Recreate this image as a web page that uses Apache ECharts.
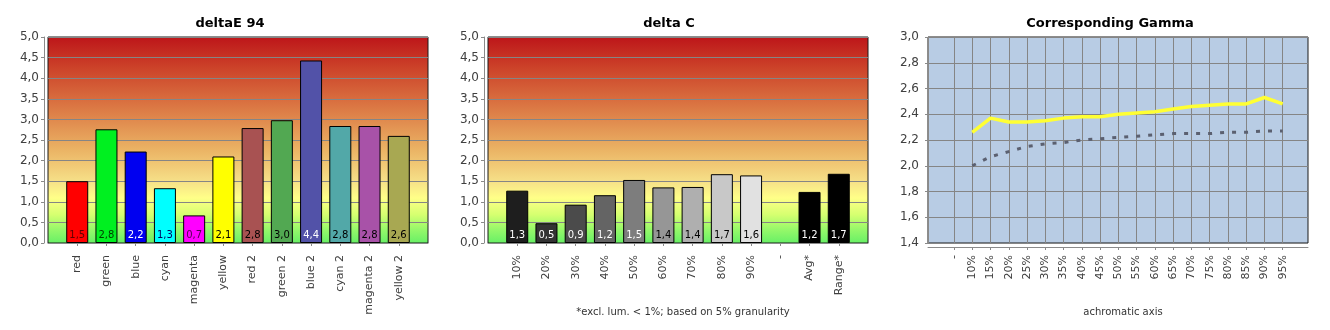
<!DOCTYPE html>
<html>
<head>
<meta charset="utf-8">
<script src="https://cdn.jsdelivr.net/npm/echarts@6/dist/echarts.min.js"></script>
<style>
html,body{margin:0;padding:0;background:#fff;}
#chart{width:1330px;height:330px;}
</style>
</head>
<body>
<div id="chart"></div>
<script>
// ---------- DATA ----------
const deltaECategories = ['red','green','blue','cyan','magenta','yellow','red 2','green 2','blue 2','cyan 2','magenta 2','yellow 2'];
const deltaEValues = [1.50, 2.76, 2.22, 1.33, 0.67, 2.10, 2.79, 2.98, 4.43, 2.84, 2.84, 2.60];

const deltaCCategories = ['10%','20%','30%','40%','50%','60%','70%','80%','90%','-','Avg*','Range*'];
const deltaCValues = [1.27, 0.48, 0.93, 1.16, 1.53, 1.35, 1.36, 1.67, 1.64, null, 1.24, 1.68];

const gammaCategories = ['-','10%','15%','20%','25%','30%','35%','40%','45%','50%','55%','60%','65%','70%','75%','80%','85%','90%','95%'];
const gammaMeasured = [null, 2.26, 2.37, 2.34, 2.34, 2.35, 2.37, 2.38, 2.38, 2.40, 2.41, 2.42, 2.44, 2.46, 2.47, 2.48, 2.48, 2.53, 2.48];
const gammaTarget   = [null, 2.00, 2.07, 2.11, 2.15, 2.17, 2.18, 2.20, 2.21, 2.22, 2.23, 2.24, 2.25, 2.25, 2.25, 2.26, 2.26, 2.27, 2.27];

const barYTicks = {min: 0, max: 5, interval: 0.5};
const gammaYTicks = {min: 1.4, max: 3.0, interval: 0.2};

const titles = ['deltaE 94', 'delta C', 'Corresponding Gamma'];
const footnoteC = '*excl. lum. < 1%; based on 5% granularity';
const gammaAxisName = 'achromatic axis';

// ---------- STYLE ----------
const FONT = 'DejaVu Sans';
const deltaEColors = ['#ff0000','#00f020','#0000f0','#00ffff','#ff00ff','#ffff00','#a85252','#52a852','#5252a8','#52a8a8','#a852a8','#a8a852'];
const deltaELabelColors = ['#600000','#004000','#ffffff','#000060','#500050','#000000','#000000','#000000','#ffffff','#000000','#000000','#000000'];
const deltaCColors = ['#1e1e1e','#333333','#4b4b4b','#646464','#7d7d7d','#969696','#afafaf','#c8c8c8','#e1e1e1','#000','#000000','#000000'];
const deltaCLabelColors = ['#fff','#fff','#fff','#fff','#fff','#000','#000','#000','#000','#fff','#fff','#fff'];

const fmt = v => (Math.round(v * 10) / 10).toFixed(1).replace('.', ',');

const bgGradient = {
  type: 'linear', x: 0, y: 0, x2: 0, y2: 1,
  colorStops: [
    {offset: 0.00, color: '#bd1519'},
    {offset: 0.15, color: '#cc4229'},
    {offset: 0.35, color: '#dc7a45'},
    {offset: 0.55, color: '#ebb465'},
    {offset: 0.70, color: '#f6e088'},
    {offset: 0.78, color: '#ffff88'},
    {offset: 0.86, color: '#d6ff70'},
    {offset: 0.93, color: '#98f86a'},
    {offset: 1.00, color: '#66f066'}
  ]
};

const plotTop = 37, plotH = 206, plotW = 380;
const lefts = [48, 488, 928];

const chart = echarts.init(document.getElementById('chart'), null, {renderer: 'canvas'});

const grids = [], xAxes = [], yAxes = [], series = [];

function yAxisBase(gi, ticks, show) {
  return {
    type: 'value', gridIndex: gi, min: ticks.min, max: ticks.max, interval: ticks.interval,
    show: show, offset: 4,
    axisLine: {show: true, lineStyle: {color: '#8a8a8a', width: 1}},
    axisTick: {show: true, length: 3, lineStyle: {color: '#8a8a8a'}},
    axisLabel: {color: '#404040', fontFamily: FONT, fontSize: 12, margin: 5, formatter: fmt},
    splitLine: {show: true, lineStyle: {color: '#858585', width: 1}}
  };
}

function addBarChart(gi, cats, vals, colors, labelColors) {
  grids.push({left: lefts[gi], top: plotTop, width: plotW, height: plotH, show: true,
    backgroundColor: bgGradient, borderColor: '#1a1a1a', borderWidth: 1});
  const padded = [''].concat(cats, ['']);
  const n = padded.length;
  xAxes.push({
    type: 'category', gridIndex: gi, data: padded, boundaryGap: false, offset: 4,
    axisLine: {show: true, lineStyle: {color: '#8a8a8a'}},
    axisTick: {show: true, length: 3, lineStyle: {color: '#8a8a8a'}, interval: (i) => i > 0 && i < n - 1},
    axisLabel: {rotate: 90, interval: 0, margin: 8, color: '#404040', fontFamily: FONT, fontSize: 11},
    splitLine: {show: false}
  });
  yAxes.push(yAxisBase(gi, barYTicks, true));
  const data = [null].concat(vals.map((v, i) => v == null ? null : {
    value: v,
    itemStyle: {color: colors[i]},
    label: {color: labelColors[i]}
  }), [null]);
  series.push({
    type: 'bar', xAxisIndex: gi, yAxisIndex: gi, data: data, barWidth: 22,
    itemStyle: {borderColor: '#000', borderWidth: 1},
    label: {show: true, position: 'insideBottom', distance: 3, fontFamily: FONT, fontSize: 10,
      formatter: p => fmt(p.value)},
    silent: true, animation: false
  });
}

addBarChart(0, deltaECategories, deltaEValues, deltaEColors, deltaELabelColors);
addBarChart(1, deltaCCategories, deltaCValues, deltaCColors, deltaCLabelColors);

// gamma: background grid (2) + data grid (3)
grids.push({left: lefts[2], top: plotTop, width: plotW, height: plotH, show: true,
  backgroundColor: '#b8cce4', borderColor: '#1a1a1a', borderWidth: 1});
grids.push({left: 954, top: plotTop, width: 328.7, height: plotH, show: false});
xAxes.push({type: 'value', gridIndex: 2, min: 0, max: 1, offset: 4,
  axisLine: {show: true, lineStyle: {color: '#8a8a8a'}}, axisTick: {show: false},
  axisLabel: {show: false}, splitLine: {show: false}});
yAxes.push(yAxisBase(2, gammaYTicks, true));
xAxes.push({
  type: 'category', gridIndex: 3, data: gammaCategories, boundaryGap: false, offset: 4,
  axisLine: {show: false},
  axisTick: {show: true, length: 3, lineStyle: {color: '#8a8a8a'}},
  axisLabel: {rotate: 90, interval: 0, margin: 8, color: '#404040', fontFamily: FONT, fontSize: 11},
  splitLine: {show: true, interval: 0, lineStyle: {color: '#858585', width: 1}}
});
yAxes.push({type: 'value', gridIndex: 3, min: gammaYTicks.min, max: gammaYTicks.max, show: false,
  splitLine: {show: false}});
series.push({type: 'line', xAxisIndex: 3, yAxisIndex: 3, data: gammaTarget, showSymbol: false,
  symbol: 'none', lineStyle: {color: '#5b6070', width: 3, type: [4, 8]}, animation: false, silent: true});
series.push({type: 'line', xAxisIndex: 3, yAxisIndex: 3, data: gammaMeasured, showSymbol: false,
  symbol: 'none', lineStyle: {color: '#ffff33', width: 3.5}, animation: false, silent: true});

const titleCenters = [225, 664, 1105];
const titleOpts = titles.map((t, i) => ({
  text: t, left: titleCenters[i], top: 12, textAlign: 'center',
  textStyle: {fontFamily: FONT, fontSize: 13, fontWeight: 'bold', color: '#000'}
}));
titleOpts.push({text: footnoteC, left: 678, top: 302, textAlign: 'center',
  textStyle: {fontFamily: FONT, fontSize: 10, fontWeight: 'normal', color: '#333'}});
titleOpts.push({text: gammaAxisName, left: 1118, top: 302, textAlign: 'center',
  textStyle: {fontFamily: FONT, fontSize: 10, fontWeight: 'normal', color: '#333'}});

chart.setOption({
  animation: false,
  backgroundColor: '#ffffff',
  title: titleOpts,
  grid: grids,
  xAxis: xAxes,
  yAxis: yAxes,
  series: series
});
</script>
</body>
</html>
